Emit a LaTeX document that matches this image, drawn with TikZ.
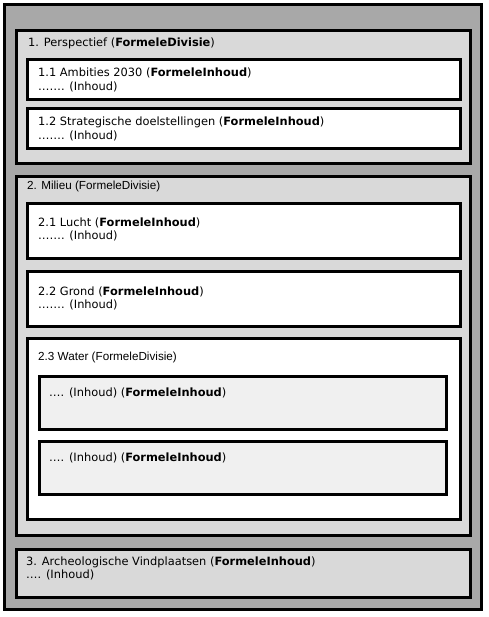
\documentclass[tikz,border=0pt]{standalone}
\usepackage{fontspec}
\setmainfont{DejaVu Sans}
\newfontfamily\arialfont{Liberation Sans}
\definecolor{outergray}{HTML}{A8A8A8}
\definecolor{midgray}{HTML}{D9D9D9}
\definecolor{lightgray2}{HTML}{F0F0F0}
\tikzset{
  frame/.style={draw=black, line width=3pt},
  vtext/.style={anchor=base west, inner sep=0pt, font=\fontsize{11.4}{13}\selectfont},
  atext/.style={anchor=base west, inner sep=0pt, font=\arialfont\fontsize{11.7}{13}\selectfont},
}
\begin{document}
\begin{tikzpicture}[x=1pt,y=-1pt]
\useasboundingbox (0,0) rectangle (488,617);
% outer
\draw[frame, fill=outergray] (4.5,4.5) rectangle (481.5,609.5);
% box 1
\draw[frame, fill=midgray] (16.5,30.5) rectangle (470.5,164);
\draw[frame, fill=white] (27,60) rectangle (460,100);
\draw[frame, fill=white] (27,108.5) rectangle (460,149);
\node[vtext] (t1) at (28,46.5) {1. Perspectief (\textbf{FormeleDivisie})};
\node[vtext] (t11a) at (38,77) {1.1 Ambities 2030 (\textbf{FormeleInhoud})};
\node[vtext] (t11b) at (38,90.5) {……. (Inhoud)};
\node[vtext] (t12a) at (38,126) {1.2 Strategische doelstellingen (\textbf{FormeleInhoud})};
\node[vtext] (t12b) at (38,139.5) {……. (Inhoud)};
% box 2
\draw[frame, fill=midgray] (16.5,176.5) rectangle (470.5,535.5);
\node[atext] (t2) at (27,189.5) {2. Milieu (FormeleDivisie)};
\draw[frame, fill=white] (27.5,203.5) rectangle (460,258);
\node[vtext] (t21a) at (38,226) {2.1 Lucht (\textbf{FormeleInhoud})};
\node[vtext] (t21b) at (38,239.5) {……. (Inhoud)};
\draw[frame, fill=white] (27.5,271.5) rectangle (460,326);
\node[vtext] (t22a) at (38,295) {2.2 Grond (\textbf{FormeleInhoud})};
\node[vtext] (t22b) at (38,308.5) {……. (Inhoud)};
\draw[frame, fill=white] (27.5,338.5) rectangle (460,519.5);
\node[atext] (t23) at (38,360) {2.3 Water (FormeleDivisie)};
\draw[frame, fill=lightgray2] (39.5,376.5) rectangle (446,429);
\node[vtext] (t231) at (49,396.5) {…. (Inhoud) (\textbf{FormeleInhoud})};
\draw[frame, fill=lightgray2] (39.5,441.5) rectangle (446,494);
\node[vtext] (t232) at (49,461.5) {…. (Inhoud) (\textbf{FormeleInhoud})};
% box 3
\draw[frame, fill=midgray] (16.5,549.5) rectangle (470.5,597.5);
\node[vtext] (t3a) at (26,565) {3. Archeologische Vindplaatsen (\textbf{FormeleInhoud})};
\node[vtext] (t3b) at (26,578.5) {…. (Inhoud)};
\end{tikzpicture}
\end{document}
